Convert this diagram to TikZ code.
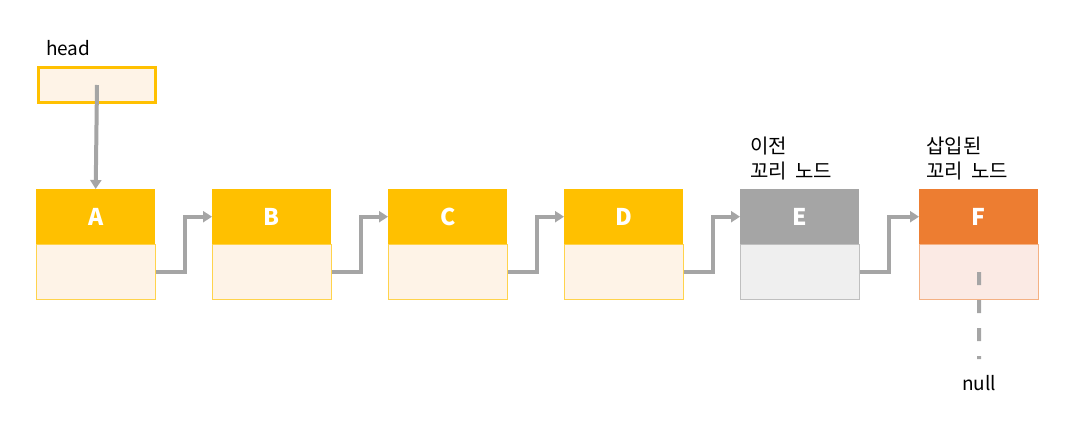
\documentclass[tikz,border=0pt]{standalone}
\usepackage{fontspec}
\setmainfont{Noto Sans CJK KR}
\usetikzlibrary{arrows.meta}
\definecolor{ylw}{HTML}{FFC000}
\definecolor{ylwl}{HTML}{FEF3E7}
\definecolor{gry}{HTML}{A5A5A5}
\definecolor{gryl}{HTML}{EFEFEF}
\definecolor{gryb}{HTML}{BFBFBF}
\definecolor{org}{HTML}{ED7D31}
\definecolor{orgl}{HTML}{FBEAE4}
\definecolor{orgb}{HTML}{F4B183}
\definecolor{arr}{HTML}{A5A5A5}
\tikzset{
  x=1pt, y=-1pt,
  toppart/.style={minimum width=119pt, minimum height=55pt, inner sep=0pt, anchor=north west, text=white, font=\fontsize{23}{25}\selectfont\bfseries},
  botpart/.style={minimum width=119pt, minimum height=55pt, inner sep=0pt, anchor=north west, line width=1.2pt},
  conn/.style={draw=arr, line width=4pt, -{Triangle[length=9pt,width=11pt]}},
  lbl/.style={font=\fontsize{19}{25}\selectfont, inner sep=0pt, align=left},
  klbl/.style={font=\fontsize{20}{25}\selectfont, inner sep=0pt, align=left},
}
\begin{document}
\begin{tikzpicture}
\useasboundingbox (0,0) rectangle (1079,434);
% head
\node[lbl, anchor=base west] (headlbl) at (46,55) {head};
\node[draw=ylw, fill=ylwl, line width=3pt, minimum width=117pt, minimum height=35pt, inner sep=0pt, anchor=north west] (head) at (37,66) {};
% nodes
\foreach \n/\x/\tc/\bc/\bd in {A/36/ylw/ylwl/ylw!70, B/212/ylw/ylwl/ylw!70, C/388/ylw/ylwl/ylw!70, D/564/ylw/ylwl/ylw!70, E/740/gry/gryl/gryb, F/919/org/orgl/orgb}{
  \node[botpart, draw=\bd, fill=\bc] (\n b) at (\x,244) {};
  \node[toppart, fill=\tc] (\n t) at (\x,189) {\n};
}
% labels
\node[klbl, anchor=base west] (elbl) at (750,178) {이전\\꼬리\hspace{8pt}노드};
\node[klbl, anchor=base west] (flbl) at (926,178) {삽입된\\꼬리\hspace{8pt}노드};
\node[lbl, anchor=base] (null) at (979,390) {null};
\coordinate (nullend) at (979,359);
% connectors
\draw[conn] (head.center) -- (At.north);
\foreach \a/\b in {A/B, B/C, C/D, D/E, E/F}{
  \draw[conn] (\a b.east) -- ++(29,0) |- (\b t.west);
}
\draw[draw=arr, line width=4pt, dash pattern=on 13pt off 15pt] (Fb.center) -- (nullend);
\end{tikzpicture}
\end{document}
